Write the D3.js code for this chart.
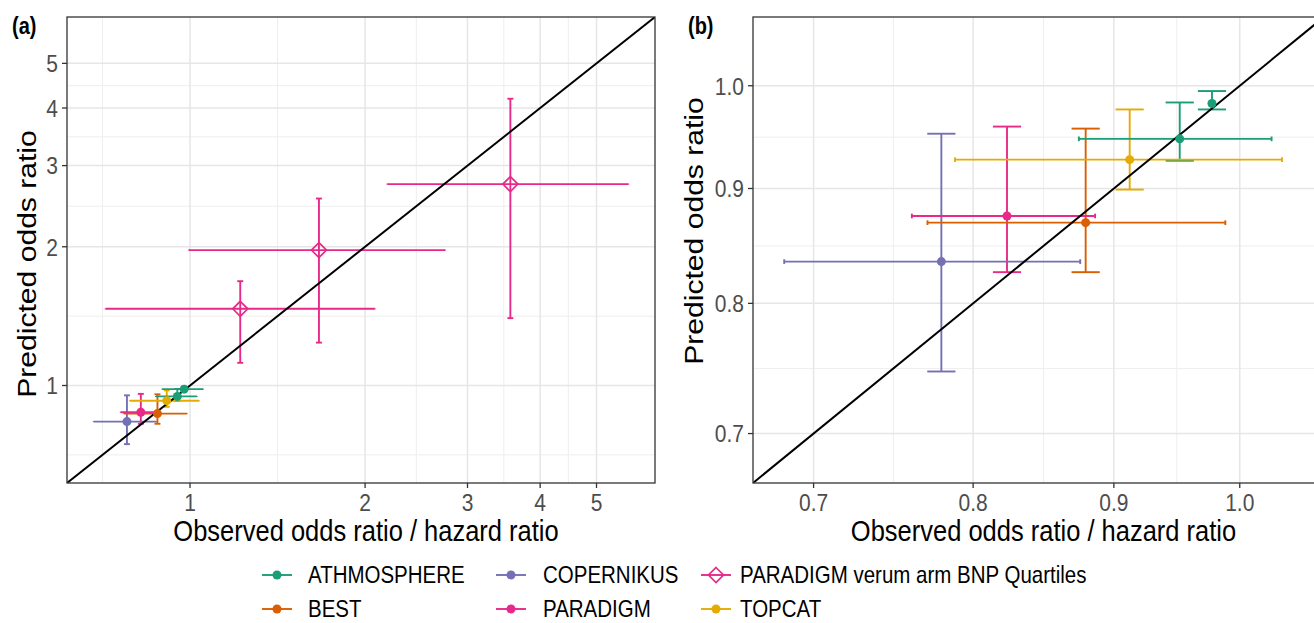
<!DOCTYPE html>
<html>
<head>
<meta charset="utf-8">
<script src="https://cdn.jsdelivr.net/npm/d3@7"></script>
<style>
body { margin: 0; background: #fff; }
svg { display: block; font-family: "Liberation Sans", Arial, sans-serif; }
</style>
</head>
<body>
<div id="chart"></div>
<script>
// one entry per estimate (observed vs predicted, with 95% intervals)
var study = ["ATHMOSPHERE", "ATHMOSPHERE", "BEST", "COPERNIKUS", "PARADIGM", "TOPCAT",
  "PARADIGM verum arm BNP Quartiles", "PARADIGM verum arm BNP Quartiles", "PARADIGM verum arm BNP Quartiles"];
var observed    = [0.951, 0.977, 0.879, 0.779, 0.823, 0.912, 1.22, 1.666, 3.555];
var observedLo  = [0.874, 0.896, 0.770, 0.683, 0.760, 0.788, 0.716, 0.996, 2.185];
var observedHi  = [1.027, 1.053, 0.988, 0.875, 0.886, 1.036, 2.078, 2.745, 5.67];
var predicted   = [0.947, 0.982, 0.869, 0.835, 0.875, 0.927, 1.467, 1.967, 2.735];
var predictedLo = [0.926, 0.976, 0.826, 0.746, 0.826, 0.899, 1.12, 1.239, 1.40];
var predictedHi = [0.983, 0.9946, 0.957, 0.952, 0.959, 0.976, 1.684, 2.545, 4.19];

var legendNames  = ["ATHMOSPHERE", "BEST", "COPERNIKUS", "PARADIGM", "PARADIGM verum arm BNP Quartiles", "TOPCAT"];
var legendColors = ["#1B9E77", "#D95F02", "#7570B3", "#E7298A", "#E7298A", "#E6AB02"];
var diamondStudy = "PARADIGM verum arm BNP Quartiles";

var ticksA = [1, 2, 3, 4, 5];
var ticksB = [0.7, 0.8, 0.9, 1.0];
var limitsB = [0.68, 1.05];

var W = 1314, H = 623;
var SY = 1.18; // the figure is stretched a bit vertically

var rows = study.map(function(s, i) {
  return { study: s, x: observed[i], xlo: observedLo[i], xhi: observedHi[i],
           y: predicted[i], ylo: predictedLo[i], yhi: predictedHi[i] };
});

var color = d3.scaleOrdinal().domain(legendNames).range(legendColors);

var svg = d3.select("#chart").append("svg")
  .attr("width", W).attr("height", H);

function stext(g, x, y, str) {
  return g.append("text")
    .attr("transform", "translate(" + x + "," + y + ") scale(1," + SY + ")")
    .text(str);
}

function expand(lim) {
  var a = Math.log(lim[0]), b = Math.log(lim[1]), e = (b - a) * 0.05;
  return [Math.exp(a - e), Math.exp(b + e)];
}

function geoMid(br) {
  var out = [];
  for (var i = 1; i < br.length; i++) out.push(Math.sqrt(br[i - 1] * br[i]));
  return out;
}

function diamond(r) {
  return "M0," + (-r) + "L" + r + ",0L0," + r + "L" + (-r) + ",0Z";
}

function drawPanel(p) {
  var dom = expand(p.limits);
  var x = d3.scaleLog().domain(dom).range([p.left, p.right]);
  var y = d3.scaleLog().domain(dom).range([p.bottom, p.top]);
  var g = svg.append("g");

  var inLim = function(v) { return v >= p.limits[0] && v <= p.limits[1]; };
  var data = p.clipData ? rows.filter(function(d) { return inLim(d.x) && inLim(d.y); }) : rows;
  var vbars = p.clipData ? rows.filter(function(d) { return inLim(d.x) && inLim(d.ylo) && inLim(d.yhi); }) : rows;
  var hbars = p.clipData ? rows.filter(function(d) { return inLim(d.y) && inLim(d.xlo) && inLim(d.xhi); }) : rows;

  var clipId = "clip" + p.name;
  g.append("clipPath").attr("id", clipId).append("rect")
    .attr("x", p.left).attr("y", p.top)
    .attr("width", p.right - p.left).attr("height", p.bottom - p.top);

  var inner = g.append("g").attr("clip-path", "url(#" + clipId + ")");

  // grid
  inner.selectAll(".mx").data(p.minor).enter().append("line")
    .attr("x1", function(d) { return x(d); }).attr("x2", function(d) { return x(d); })
    .attr("y1", p.top).attr("y2", p.bottom)
    .attr("stroke", "#EEEEEE").attr("stroke-width", 1);
  inner.selectAll(".my").data(p.minor).enter().append("line")
    .attr("y1", function(d) { return y(d); }).attr("y2", function(d) { return y(d); })
    .attr("x1", p.left).attr("x2", p.right)
    .attr("stroke", "#EEEEEE").attr("stroke-width", 1);
  inner.selectAll(".gx").data(p.ticks).enter().append("line")
    .attr("x1", function(d) { return x(d); }).attr("x2", function(d) { return x(d); })
    .attr("y1", p.top).attr("y2", p.bottom)
    .attr("stroke", "#E6E6E6").attr("stroke-width", 1.5);
  inner.selectAll(".gy").data(p.ticks).enter().append("line")
    .attr("y1", function(d) { return y(d); }).attr("y2", function(d) { return y(d); })
    .attr("x1", p.left).attr("x2", p.right)
    .attr("stroke", "#E6E6E6").attr("stroke-width", 1.5);

  // vertical error bars (cap width fixed in log units)
  var cw = Math.exp(0.0118), ch = Math.exp(0.0024);
  var vb = inner.selectAll(".vb").data(vbars).enter().append("g")
    .attr("stroke", function(d) { return color(d.study); })
    .attr("stroke-width", 1.9).attr("fill", "none");
  vb.append("line")
    .attr("x1", function(d) { return x(d.x); }).attr("x2", function(d) { return x(d.x); })
    .attr("y1", function(d) { return y(d.ylo); }).attr("y2", function(d) { return y(d.yhi); });
  vb.append("line")
    .attr("x1", function(d) { return x(d.x / cw); }).attr("x2", function(d) { return x(d.x * cw); })
    .attr("y1", function(d) { return y(d.ylo); }).attr("y2", function(d) { return y(d.ylo); });
  vb.append("line")
    .attr("x1", function(d) { return x(d.x / cw); }).attr("x2", function(d) { return x(d.x * cw); })
    .attr("y1", function(d) { return y(d.yhi); }).attr("y2", function(d) { return y(d.yhi); });

  // horizontal error bars
  var hb = inner.selectAll(".hb").data(hbars).enter().append("g")
    .attr("stroke", function(d) { return color(d.study); })
    .attr("stroke-width", 1.9).attr("fill", "none");
  hb.append("line")
    .attr("x1", function(d) { return x(d.xlo); }).attr("x2", function(d) { return x(d.xhi); })
    .attr("y1", function(d) { return y(d.y); }).attr("y2", function(d) { return y(d.y); });
  hb.append("line")
    .attr("x1", function(d) { return x(d.xlo); }).attr("x2", function(d) { return x(d.xlo); })
    .attr("y1", function(d) { return y(d.y / ch); }).attr("y2", function(d) { return y(d.y * ch); });
  hb.append("line")
    .attr("x1", function(d) { return x(d.xhi); }).attr("x2", function(d) { return x(d.xhi); })
    .attr("y1", function(d) { return y(d.y / ch); }).attr("y2", function(d) { return y(d.y * ch); });

  // identity line
  inner.append("line")
    .attr("x1", x(dom[0])).attr("y1", y(dom[0]))
    .attr("x2", x(dom[1])).attr("y2", y(dom[1]))
    .attr("stroke", "#000").attr("stroke-width", 2);

  // points
  inner.selectAll(".pt").data(data.filter(function(d) { return d.study != diamondStudy; }))
    .enter().append("circle")
    .attr("cx", function(d) { return x(d.x); })
    .attr("cy", function(d) { return y(d.y); })
    .attr("r", 4.5)
    .attr("fill", function(d) { return color(d.study); });
  inner.selectAll(".dm").data(data.filter(function(d) { return d.study == diamondStudy; }))
    .enter().append("path")
    .attr("transform", function(d) { return "translate(" + x(d.x) + "," + y(d.y) + ")"; })
    .attr("d", diamond(7.5))
    .attr("fill", "none")
    .attr("stroke", function(d) { return color(d.study); })
    .attr("stroke-width", 1.7);

  // border
  g.append("rect")
    .attr("x", p.left).attr("y", p.top)
    .attr("width", p.right - p.left).attr("height", p.bottom - p.top)
    .attr("fill", "none").attr("stroke", "#333333").attr("stroke-width", 1.3);

  // ticks + labels
  g.selectAll(".tx").data(p.ticks).enter().append("line")
    .attr("x1", function(d) { return x(d); }).attr("x2", function(d) { return x(d); })
    .attr("y1", p.bottom).attr("y2", p.bottom + 5)
    .attr("stroke", "#333333").attr("stroke-width", 1.3);
  g.selectAll(".ty").data(p.ticks).enter().append("line")
    .attr("y1", function(d) { return y(d); }).attr("y2", function(d) { return y(d); })
    .attr("x1", p.left - 5).attr("x2", p.left)
    .attr("stroke", "#333333").attr("stroke-width", 1.3);

  p.ticks.forEach(function(t) {
    stext(g, x(t), p.bottom + 28, p.fmt(t))
      .attr("text-anchor", "middle").attr("font-size", 21).attr("fill", "#4D4D4D");
    stext(g, p.left - 9, y(t) + 8.8, p.fmt(t))
      .attr("text-anchor", "end").attr("font-size", 21).attr("fill", "#4D4D4D");
  });

  stext(g, (p.left + p.right) / 2 + 5, 541, "Observed odds ratio / hazard ratio")
    .attr("text-anchor", "middle").attr("font-size", 25.5).attr("fill", "#000");

  g.append("text")
    .attr("transform", "translate(" + p.yTitleX + "," + p.yTitleY + ") scale(1," + SY + ") rotate(-90)")
    .attr("text-anchor", "middle").attr("font-size", 25.5).attr("fill", "#000")
    .text("Predicted odds ratio");

  stext(g, p.tagX, 34, p.tag)
    .attr("font-size", 20).attr("font-weight", "bold").attr("fill", "#000");
}

var allVals = observedLo.concat(observedHi, predictedLo, predictedHi);

drawPanel({ name: "a", left: 67, right: 655, top: 17, bottom: 483,
  limits: [d3.min(allVals), d3.max(allVals)],
  ticks: ticksA, minor: geoMid([0.5].concat(ticksA)),
  fmt: function(d) { return String(d); },
  yTitleX: 36, yTitleY: 264, tag: "(a)", tagX: 12, clipData: false });

drawPanel({ name: "b", left: 753, right: 1324, top: 17, bottom: 483,
  limits: limitsB,
  ticks: ticksB, minor: geoMid(ticksB),
  fmt: d3.format(".1f"),
  yTitleX: 703, yTitleY: 231, tag: "(b)", tagX: 688, clipData: true });

// legend, two rows filled column by column
var keyX = [277, 511, 716];
var textX = [308, 543, 740];
var rowY = [575, 609];

var leg = svg.append("g");
legendNames.forEach(function(name, i) {
  var col = Math.floor(i / 2), r = i % 2;
  var cx = keyX[col], cy = rowY[r];
  leg.append("line")
    .attr("x1", cx - 15).attr("x2", cx + 15).attr("y1", cy).attr("y2", cy)
    .attr("stroke", legendColors[i]).attr("stroke-width", 1.9);
  if (name == diamondStudy) {
    leg.append("path")
      .attr("transform", "translate(" + cx + "," + cy + ")")
      .attr("d", diamond(7.5)).attr("fill", "none")
      .attr("stroke", legendColors[i]).attr("stroke-width", 1.7);
  } else {
    leg.append("circle").attr("cx", cx).attr("cy", cy).attr("r", 4.5)
      .attr("fill", legendColors[i]);
  }
  stext(leg, textX[col], cy + 8, name)
    .attr("font-size", 20.5).attr("fill", "#000");
});
</script>
</body>
</html>
